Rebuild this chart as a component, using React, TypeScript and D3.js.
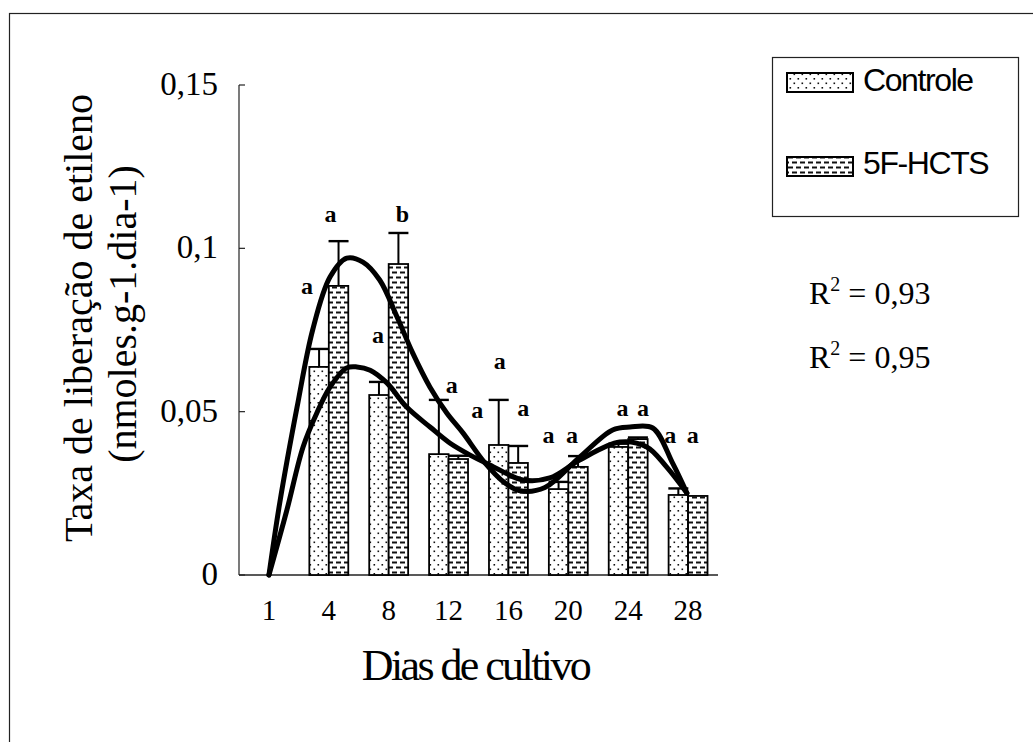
import React from "react";
import * as d3 from "d3";

// Days of culture (categories on the x axis)
const days = ["1", "4", "8", "12", "16", "20", "24", "28"];

// Ethylene release rate (nmoles.g-1.dia-1)
const controle = [0, 0.0637, 0.0551, 0.037, 0.0398, 0.0263, 0.0392, 0.0245];
const hcts = [0, 0.0885, 0.0952, 0.0355, 0.0343, 0.0331, 0.0416, 0.0242];

// Standard errors
const controleErr = [0, 0.0055, 0.004, 0.0166, 0.0138, 0.0022, 0.001, 0.002];
const hctsErr = [0, 0.0137, 0.0095, 0.001, 0.0052, 0.0033, 0.0005, 0];

// Significance letters and the height at which each one sits
const controleLetters = ["", "a", "a", "a", "a", "a", "a", "a"];
const hctsLetters = ["", "a", "b", "a", "a", "a", "a", "a"];
const controleLetterY = [0, 0.086, 0.071, 0.0557, 0.063, 0.0404, 0.0487, 0.0404];
const hctsLetterY = [0, 0.108, 0.108, 0.048, 0.0487, 0.0404, 0.0487, 0.0404];

// Polynomial trend lines (position in category index, value)
const trendHctsT = [0, 0.18, 0.47, 0.73, 1.02, 1.3, 1.57, 1.85, 2.14, 2.4, 2.69, 2.97, 3.24, 3.6, 3.94, 4.19, 4.61, 5.19, 5.74, 6.03, 6.41, 6.74, 6.98];
const trendHctsV = [0, 0.022, 0.0514, 0.075, 0.0912, 0.097, 0.0958, 0.0903, 0.079, 0.068, 0.0575, 0.0496, 0.0435, 0.0345, 0.0282, 0.0258, 0.0268, 0.0361, 0.0444, 0.0453, 0.045, 0.0343, 0.0251];
const trendCtrlT = [0, 0.3, 0.57, 0.8, 1.02, 1.3, 1.47, 1.69, 1.97, 2.3, 2.69, 3.02, 3.36, 3.69, 4.24, 4.69, 5.19, 5.86, 6.31, 6.64, 6.98];
const trendCtrlV = [0, 0.0199, 0.0392, 0.0496, 0.0575, 0.0634, 0.0637, 0.0627, 0.0588, 0.0514, 0.0453, 0.0404, 0.0367, 0.0337, 0.0291, 0.0297, 0.0352, 0.0407, 0.0392, 0.0331, 0.0251];

const seriesNames = ["Controle", "5F-HCTS"];
const r2Labels = ["0,93", "0,95"];
const yTicks = [0, 0.05, 0.1, 0.15];

// Layout
const W = 1033;
const H = 742;
const plotLeft = 239;
const plotRight = 718;
const plotTop = 85;
const plotBottom = 575;

// Horizontal nudges (px) of the significance letters
const ctrlLetterDx = [0, -12, -1, 13, 1, -10, 4, -8];
const hctsLetterDx = [0, -8, 4, 19, 5, -6, 5, -5];

const serif = "'Liberation Serif', 'Times New Roman', serif";
const sans = "'Liberation Sans', Arial, sans-serif";

export default function App() {
  const x = d3.scaleBand<string>().domain(days).range([plotLeft, plotRight]).paddingInner(0).paddingOuter(0);
  const groupW = x.bandwidth() * 0.65;
  const xs = d3.scaleBand<string>().domain(seriesNames).range([0, groupW]);
  const y = d3.scaleLinear().domain([0, 0.15]).range([plotBottom, plotTop]);
  const xIdx = d3
    .scaleLinear()
    .domain([0, days.length - 1])
    .range([x(days[0])! + x.bandwidth() / 2, x(days[days.length - 1])! + x.bandwidth() / 2]);

  const line = d3
    .line<[number, number]>()
    .x((d) => xIdx(d[0]))
    .y((d) => y(d[1]))
    .curve(d3.curveCatmullRom.alpha(0.5));

  const ctrlPts: [number, number][] = trendCtrlT.map((t, i) => [t, trendCtrlV[i]]);
  const hctsPts: [number, number][] = trendHctsT.map((t, i) => [t, trendHctsV[i]]);

  const series = [
    { name: seriesNames[0], values: controle, err: controleErr, letters: controleLetters, ly: controleLetterY, dx: ctrlLetterDx, fill: "url(#patDots)" },
    { name: seriesNames[1], values: hcts, err: hctsErr, letters: hctsLetters, ly: hctsLetterY, dx: hctsLetterDx, fill: "url(#patDash)" },
  ];

  return (
    <svg width={W} height={H} style={{ position: "absolute", left: 0, top: 0, background: "#fff" }}>
      <defs>
        <pattern id="patDots" width="8" height="9" patternUnits="userSpaceOnUse">
          <rect width="8" height="9" fill="#fff" />
          <rect x="1.5" y="1.5" width="1.6" height="1.6" fill="#111" />
          <rect x="5.5" y="6" width="1.6" height="1.6" fill="#111" />
        </pattern>
        <pattern id="patDash" width="8" height="10" patternUnits="userSpaceOnUse">
          <rect width="8" height="10" fill="#fff" />
          <rect x="0" y="1.5" width="5" height="2" fill="#111" />
          <rect x="4" y="6.5" width="5" height="2" fill="#111" />
          <rect x="-4" y="6.5" width="5" height="2" fill="#111" />
        </pattern>
      </defs>

      {/* outer frame */}
      <rect x={9.5} y={13.5} width={1040} height={750} fill="none" stroke="#222" strokeWidth={1.2} />

      {/* axes */}
      <line x1={plotLeft} x2={plotLeft} y1={plotTop} y2={plotBottom} stroke="#222" strokeWidth={1.2} />
      <line x1={plotLeft} x2={plotRight} y1={plotBottom} y2={plotBottom} stroke="#222" strokeWidth={1.4} />
      {yTicks.map((t) => (
        <g key={t}>
          <line x1={plotLeft} x2={plotLeft + 6} y1={y(t)} y2={y(t)} stroke="#222" strokeWidth={1.2} />
          <text x={218} y={y(t) + 10} textAnchor="end" fontFamily={serif} fontSize={33} fill="#000">
            {String(t).replace(".", ",")}
          </text>
        </g>
      ))}
      {days.map((d) => (
        <text key={d} x={x(d)! + x.bandwidth() / 2} y={620} textAnchor="middle" fontFamily={serif} fontSize={29} fill="#000">
          {d}
        </text>
      ))}

      {/* axis titles */}
      <text
        transform={`translate(${plotLeft + (plotRight - plotLeft) / 2 - 3},680)`}
        textAnchor="middle"
        fontFamily={serif}
        fontSize={44}
        letterSpacing={-2.6}
        fill="#000"
      >
        Dias de cultivo
      </text>
      <text transform="translate(92,318) rotate(-90)" textAnchor="middle" fontFamily={serif} fontSize={40} fill="#000">
        Taxa de liberação de etileno
      </text>
      <text transform="translate(136,314) rotate(-90)" textAnchor="middle" fontFamily={serif} fontSize={40} fill="#000">
        (nmoles.g-1.dia-1)
      </text>

      {/* bars */}
      {series.map((s) =>
        s.values.map((v, i) => {
          const bx = x(days[i])! + (x.bandwidth() - groupW) / 2 + xs(s.name)!;
          const bw = xs.bandwidth();
          if (v <= 0) return null;
          return (
            <rect key={s.name + i} x={bx} y={y(v)} width={bw} height={plotBottom - y(v)} fill={s.fill} stroke="#000" strokeWidth={1.8} />
          );
        })
      )}

      {/* error bars */}
      {series.map((s) =>
        s.values.map((v, i) => {
          if (v <= 0 || s.err[i] <= 0) return null;
          const cx = x(days[i])! + (x.bandwidth() - groupW) / 2 + xs(s.name)! + xs.bandwidth() / 2;
          const top = y(v + s.err[i]);
          return (
            <g key={"e" + s.name + i} stroke="#000" strokeWidth={2}>
              <line x1={cx} x2={cx} y1={y(v)} y2={top} />
              <line x1={cx - 10} x2={cx + 10} y1={top} y2={top} strokeWidth={2.4} />
            </g>
          );
        })
      )}

      {/* trend lines */}
      <path d={line(hctsPts) ?? ""} fill="none" stroke="#000" strokeWidth={5} strokeLinejoin="round" strokeLinecap="round" />
      <path d={line(ctrlPts) ?? ""} fill="none" stroke="#000" strokeWidth={5} strokeLinejoin="round" strokeLinecap="round" />

      {/* significance letters */}
      {series.map((s) =>
        s.letters.map((l, i) => {
          if (!l) return null;
          const cx = x(days[i])! + (x.bandwidth() - groupW) / 2 + xs(s.name)! + xs.bandwidth() / 2 + s.dx[i];
          return (
            <text key={"l" + s.name + i} x={cx} y={y(s.ly[i])} textAnchor="middle" fontFamily={serif} fontWeight="bold" fontSize={24} fill="#000">
              {l}
            </text>
          );
        })
      )}

      {/* legend */}
      <rect x={772.5} y={57.5} width={246} height={159} fill="#fff" stroke="#222" strokeWidth={1.2} />
      {series.map((s, i) => (
        <g key={"lg" + s.name}>
          <rect x={787} y={73 + i * 84} width={66} height={19} fill={s.fill} stroke="#000" strokeWidth={2} />
          <text x={863} y={91 + i * 83} fontFamily={sans} fontSize={32} letterSpacing={-1.4} fill="#000">
            {s.name}
          </text>
        </g>
      ))}

      {/* goodness of fit */}
      {r2Labels.map((r, i) => (
        <text key={r} x={809} y={304 + i * 64} fontFamily={serif} fontSize={32} fill="#000">
          R<tspan dy={-13} fontSize={20}>2</tspan>
          <tspan dy={13}> = {r}</tspan>
        </text>
      ))}
    </svg>
  );
}
